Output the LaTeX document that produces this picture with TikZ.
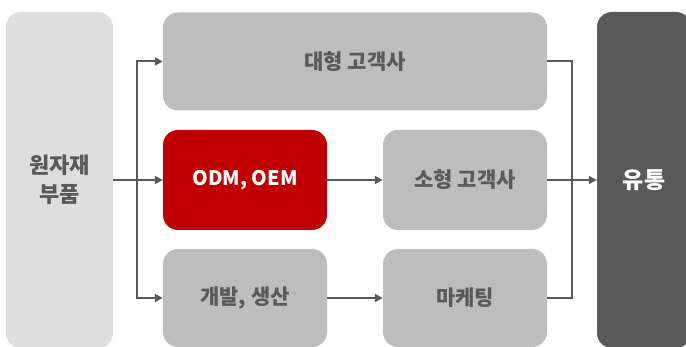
\documentclass[tikz,border=0pt]{standalone}
\usepackage{fontspec}
\setmainfont{Noto Sans CJK KR}
\usetikzlibrary{arrows.meta}
\definecolor{lightbox}{HTML}{DEDEDE}
\definecolor{midbox}{HTML}{BDBDBD}
\definecolor{redbox}{HTML}{C00000}
\definecolor{darkbox}{HTML}{595959}
\definecolor{txtgray}{HTML}{595959}
\definecolor{linegray}{HTML}{595959}
\tikzset{
  box/.style={rectangle, rounded corners=15pt, inner sep=0pt, font=\fontsize{21}{24}\selectfont\bfseries},
  graybox/.style={box, fill=midbox, text=txtgray},
  conn/.style={draw=linegray, line width=2pt},
  arr/.style={conn, -{Triangle[length=8pt,width=8pt]}}
}
\begin{document}
\begin{tikzpicture}[x=1pt,y=-1pt]
\useasboundingbox (0,0) rectangle (686,347);
\clip (0,0) rectangle (686,347);
\node[box, fill=lightbox, text=txtgray, minimum width=107pt, minimum height=336pt, align=center, font=\fontsize{22}{29}\selectfont\bfseries] (src) at (59.5,180) {원자재\\부품};
\node[graybox, minimum width=384pt, minimum height=98pt] (big) at (355,61.5) {대형 고객사};
\node[box, fill=redbox, text=white, minimum width=164pt, minimum height=100pt, font=\fontsize{20}{24}\selectfont\bfseries] (odm) at (245,180) {ODM, OEM};
\node[graybox, minimum width=164pt, minimum height=100pt] (small) at (465,180) {소형 고객사};
\node[graybox, minimum width=164pt, minimum height=98pt] (dev) at (245,298) {개발, 생산};
\node[graybox, minimum width=164pt, minimum height=98pt] (mkt) at (465,298) {마케팅};
\node[box, fill=darkbox, text=white, minimum width=94pt, minimum height=336pt, font=\fontsize{23}{26}\selectfont\bfseries] (dist) at (644,180) {유통};
\coordinate (ltrunk) at (137,180);
\coordinate (rtrunk) at (572,180);
\draw[arr] (src.east) -- (odm.west);
\draw[arr] (ltrunk) |- (big.west);
\draw[arr] (ltrunk) |- (dev.west);
\draw[arr] (odm.east) -- (small.west);
\draw[arr] (dev.east) -- (mkt.west);
\draw[conn] (big.east) -| (rtrunk) |- (mkt.east);
\draw[arr] (small.east) -- (dist.west);
\end{tikzpicture}
\end{document}
